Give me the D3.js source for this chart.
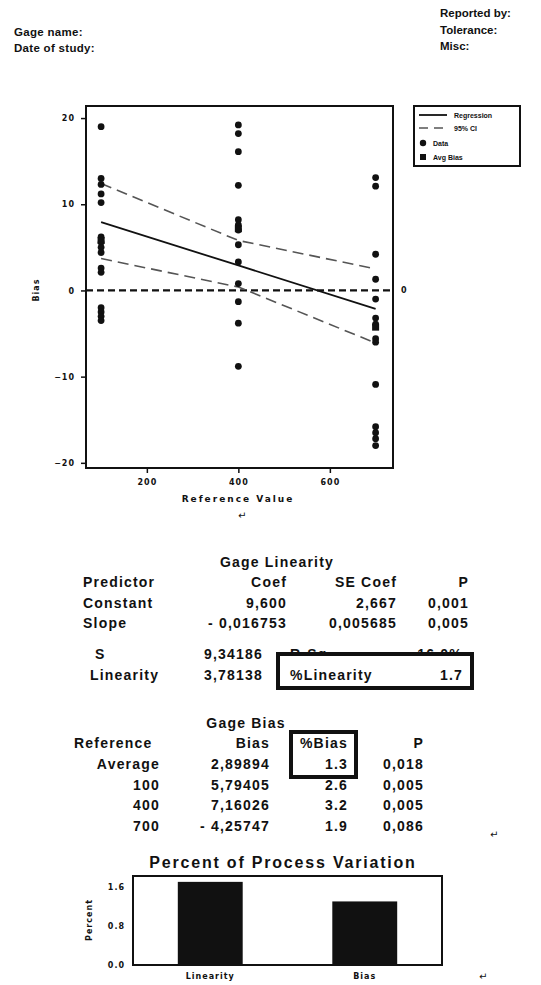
<!DOCTYPE html>
<html>
<head>
<meta charset="utf-8">
<script src="https://cdn.jsdelivr.net/npm/d3@7"></script>
<style>
  body { margin: 0; background: #fff; }
  svg text { font-family: "Liberation Sans", Arial, sans-serif; fill: #111; }
  .tk { font-family: "DejaVu Sans", sans-serif; font-weight: bold; font-size: 8px; letter-spacing: 1px; }
  .tb { font-weight: bold; font-size: 14px; letter-spacing: 1.2px; }
</style>
</head>
<body>
<div id="chart"></div>
<script>
// header fields
var headLeft = ['Gage name:', 'Date of study:'];
var headRight = ['Reported by:', 'Tolerance:', 'Misc:'];

// measured bias by reference value
var refValues = [100, 400, 700];
var bias100 = [19, 13, 12.3, 11.2, 10.2, 6.2, 5.6, 5.0, 4.4, 2.6, 2.1, -2, -2.5, -3, -3.5];
var bias400 = [19.2, 18.2, 16.1, 12.2, 8.2, 7.6, 7.0, 5.3, 3.3, 0.8, -1.3, -3.8, -8.8];
var bias700 = [13.1, 12.1, 4.2, 1.3, -1, -3.2, -3.9, -5.6, -6.0, -10.9, -15.8, -16.5, -17.2, -18];
var avgBias = [5.79405, 7.16026, -4.25747];
var ciUpper = [12.4, 5.8, 2.5];
var ciLower = [3.7, 0.4, -6.1];
var coefConst = 9.600, coefSlope = -0.016753;
var xTicks = [200, 400, 600];
var yTicks = [20, 10, 0, -10, -20];
var legendItems = ['Regression', '95% CI', 'Data', 'Avg Bias'];

// tables
var linHeader = ['Predictor', 'Coef', 'SE Coef', 'P'];
var linRows = [
    ['Constant', '9,600', '2,667', '0,001'],
    ['Slope', '- 0,016753', '0,005685', '0,005']
];
var linStats = [['S', '9,34186', 'R-Sq', '16.0%'], ['Linearity', '3,78138', '%Linearity', '1.7']];
var biasHeader = ['Reference', 'Bias', '%Bias', 'P'];
var biasRows = [
    ['Average', '2,89894', '1.3', '0,018'],
    ['100', '5,79405', '2.6', '0,005'],
    ['400', '7,16026', '3.2', '0,005'],
    ['700', '- 4,25747', '1.9', '0,086']
];

// percent of process variation
var pctCats = ['Linearity', 'Bias'];
var pctValues = [1.7, 1.3];
var pctTicks = [0, 0.8, 1.6];

var svg = d3.select('#chart').append('svg').attr('width', 541).attr('height', 985);

// header
svg.selectAll('.hl').data(headLeft).enter().append('text')
    .attr('x', 14).attr('y', function(d, i) { return 36 + i * 16; })
    .style('font-size', '11.5px').style('font-weight', 'bold').style('letter-spacing', '0.3px')
    .text(function(d) { return d; });
svg.selectAll('.hr').data(headRight).enter().append('text')
    .attr('x', 440).attr('y', function(d, i) { return 17 + i * 16.5; })
    .style('font-size', '11.5px').style('font-weight', 'bold').text(function(d) { return d; });

// ---------- scatter plot ----------
var x = d3.scaleLinear().domain([67, 738]).range([86, 393]);
var y = d3.scaleLinear().domain([-20.6, 21.4]).range([468, 106]);
var plot = svg.append('g');

var yAxis = plot.append('g').attr('transform', 'translate(86,0)')
    .call(d3.axisLeft(y).tickValues(yTicks).tickSize(5).tickPadding(6).tickFormat(d3.format('d')));
var xAxis = plot.append('g').attr('transform', 'translate(0,468)')
    .call(d3.axisBottom(x).tickValues(xTicks).tickSize(5).tickPadding(6));
[yAxis, xAxis].forEach(function(a) {
    a.select('.domain').remove();
    a.selectAll('line').attr('stroke', '#111').attr('stroke-width', 1.5);
    a.selectAll('text').attr('class', 'tk');
});

plot.append('rect').attr('x', 86).attr('y', 106).attr('width', 307).attr('height', 362)
    .attr('fill', 'none').attr('stroke', '#111').attr('stroke-width', 2);

// zero reference
plot.append('line').attr('x1', 86).attr('x2', 393).attr('y1', y(0)).attr('y2', y(0))
    .attr('stroke', '#111').attr('stroke-width', 2.2).attr('stroke-dasharray', '7,4');
plot.append('text').attr('class', 'tk').attr('x', 401).attr('y', y(0) + 3).text('0');

// regression + CI
var line = d3.line().x(function(d) { return x(d[0]); }).y(function(d) { return y(d[1]); });
plot.append('path').attr('d', line(refValues.map(function(r) { return [r, coefConst + coefSlope * r]; })))
    .attr('fill', 'none').attr('stroke', '#111').attr('stroke-width', 1.8);
[ciUpper, ciLower].forEach(function(arr) {
    plot.append('path').attr('d', line(refValues.map(function(r, i) { return [r, arr[i]]; })))
        .attr('fill', 'none').attr('stroke', '#555').attr('stroke-width', 1.6).attr('stroke-dasharray', '11,6');
});

// data points
var pts = [];
[bias100, bias400, bias700].forEach(function(arr, i) {
    arr.forEach(function(v) { pts.push([refValues[i], v]); });
});
plot.selectAll('.pt').data(pts).enter().append('circle')
    .attr('cx', function(d) { return x(d[0]); }).attr('cy', function(d) { return y(d[1]); })
    .attr('r', 3.4).attr('fill', '#111');
plot.selectAll('.avg').data(avgBias).enter().append('rect')
    .attr('x', function(d, i) { return x(refValues[i]) - 3.5; }).attr('y', function(d) { return y(d) - 3.5; })
    .attr('width', 7).attr('height', 7).attr('fill', '#111');

plot.append('text').attr('class', 'tk').attr('transform', 'translate(39,290) rotate(-90)')
    .attr('text-anchor', 'middle').text('Bias');
plot.append('text').attr('class', 'tk').attr('x', 238).attr('y', 502)
    .attr('text-anchor', 'middle').style('font-size', '9px').style('letter-spacing', '2px').text('Reference Value');

// legend
var lg = svg.append('g');
lg.append('rect').attr('x', 414).attr('y', 106).attr('width', 106).attr('height', 60)
    .attr('fill', 'none').attr('stroke', '#111').attr('stroke-width', 2);
lg.append('line').attr('x1', 419).attr('x2', 447).attr('y1', 115).attr('y2', 115).attr('stroke', '#111').attr('stroke-width', 1.8);
lg.append('line').attr('x1', 419).attr('x2', 447).attr('y1', 128).attr('y2', 128).attr('stroke', '#555')
    .attr('stroke-width', 1.6).attr('stroke-dasharray', '9,6');
lg.append('circle').attr('cx', 423).attr('cy', 143).attr('r', 3.2).attr('fill', '#111');
lg.append('rect').attr('x', 420).attr('y', 154).attr('width', 6).attr('height', 6).attr('fill', '#111');
lg.selectAll('.lt').data(legendItems).enter().append('text')
    .attr('x', function(d, i) { return i < 2 ? 454 : 433; })
    .attr('y', function(d, i) { return [118, 131, 146, 160][i]; })
    .style('font-size', '7px').style('font-weight', 'bold').text(function(d) { return d; });

// ---------- Gage Linearity table ----------
var tb = svg.append('g');
tb.append('text').attr('class', 'tb').attr('x', 277).attr('y', 567).attr('text-anchor', 'middle').text('Gage Linearity');
var linX = [83, 287, 397, 469];
var linAnchor = ['start', 'end', 'end', 'end'];
[linHeader].concat(linRows).forEach(function(row, r) {
    row.forEach(function(c, j) {
        tb.append('text').attr('class', 'tb').attr('x', linX[j]).attr('y', 587 + r * 20.5)
            .attr('text-anchor', linAnchor[j]).text(c);
    });
});
// R-Sq row partly hidden behind the box
linStats.forEach(function(row, r) {
    var yy = 659 + r * 21;
    tb.append('text').attr('class', 'tb').attr('x', r ? 90 : 95).attr('y', yy).text(row[0]);
    tb.append('text').attr('class', 'tb').attr('x', 263).attr('y', yy).attr('text-anchor', 'end').text(row[1]);
    tb.append('text').attr('class', 'tb').attr('x', 290).attr('y', yy).text(row[2]);
    tb.append('text').attr('class', 'tb').attr('x', 463).attr('y', yy).attr('text-anchor', 'end').text(row[3]);
});
tb.append('rect').attr('x', 278).attr('y', 654).attr('width', 194).attr('height', 10).attr('fill', '#fff');
tb.append('rect').attr('x', 278).attr('y', 654).attr('width', 194).attr('height', 34)
    .attr('fill', 'none').attr('stroke', '#111').attr('stroke-width', 4);

// ---------- Gage Bias table ----------
tb.append('text').attr('class', 'tb').attr('x', 246).attr('y', 728).attr('text-anchor', 'middle').text('Gage Bias');
var biasX = [160, 270, 348, 424];
[biasHeader].concat(biasRows).forEach(function(row, r) {
    row.forEach(function(c, j) {
        tb.append('text').attr('class', 'tb').attr('x', (r === 0 && j === 0) ? 74 : biasX[j])
            .attr('y', 748 + r * 20.8).attr('text-anchor', (r === 0 && j === 0) ? 'start' : 'end').text(c);
    });
});
tb.append('rect').attr('x', 291).attr('y', 732).attr('width', 65).attr('height', 45)
    .attr('fill', 'none').attr('stroke', '#111').attr('stroke-width', 4);

// paragraph marks
var marks = [[238, 519], [490, 838], [479, 980]];
svg.selectAll('.pm').data(marks).enter().append('text')
    .attr('x', function(d) { return d[0]; }).attr('y', function(d) { return d[1]; })
    .style('font-family', 'DejaVu Sans').style('font-size', '10px').text('\u21b5');

// ---------- Percent of Process Variation ----------
var bx = d3.scaleBand().domain(pctCats).range([133, 442]).paddingInner(0.58).paddingOuter(0.29);
var by = d3.scaleLinear().domain([0, 1.82]).range([965, 876]);
var bc = svg.append('g');
bc.append('text').attr('x', 283).attr('y', 868).attr('text-anchor', 'middle')
    .style('font-size', '16px').style('font-weight', 'bold').style('letter-spacing', '1.8px')
    .text('Percent of Process Variation');
bc.selectAll('.bar').data(pctValues).enter().append('rect')
    .attr('x', function(d, i) { return bx(pctCats[i]); }).attr('width', bx.bandwidth())
    .attr('y', function(d) { return by(d); }).attr('height', function(d) { return by(0) - by(d); })
    .attr('fill', '#111');
bc.append('rect').attr('x', 133).attr('y', 876).attr('width', 309).attr('height', 89)
    .attr('fill', 'none').attr('stroke', '#111').attr('stroke-width', 2);
var byAx = bc.append('g').attr('transform', 'translate(133,0)')
    .call(d3.axisLeft(by).tickValues(pctTicks).tickSize(0).tickPadding(8).tickFormat(d3.format('.1f')));
var bxAx = bc.append('g').attr('transform', 'translate(0,965)')
    .call(d3.axisBottom(bx).tickSize(0).tickPadding(8));
[byAx, bxAx].forEach(function(a) {
    a.select('.domain').remove();
    a.selectAll('text').attr('class', 'tk');
});
bc.append('text').attr('class', 'tk').attr('transform', 'translate(92,920) rotate(-90)')
    .attr('text-anchor', 'middle').text('Percent');
</script>
</body>
</html>
